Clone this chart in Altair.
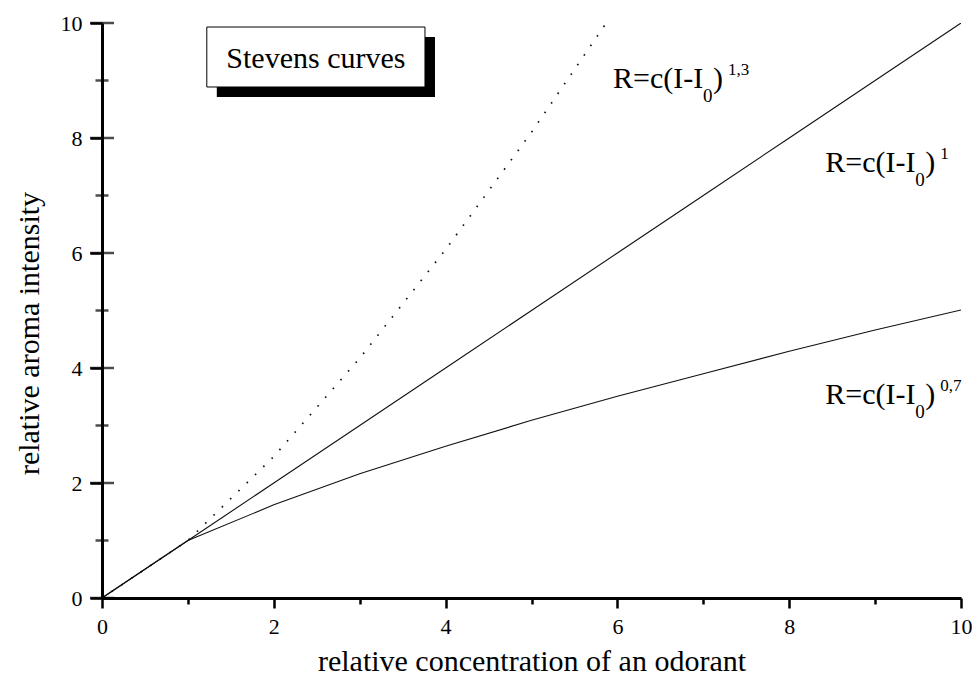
import altair as alt
import pandas as pd

FONT = "Liberation Serif"

# ---- data ----
conc = [0, 1, 2, 3, 4, 5, 6, 7, 8, 9, 10]
resp_exp_10 = [0, 1, 2, 3, 4, 5, 6, 7, 8, 9, 10]
resp_exp_07 = [0, 1.00, 1.62, 2.16, 2.64, 3.09, 3.51, 3.90, 4.29, 4.66, 5.01]
conc_exp_13 = [0, 1, 2, 3, 4, 5, 5.87]
resp_exp_13 = [0, 1.00, 2.46, 4.17, 6.06, 8.10, 10.0]

axis_ticks = [0, 1, 2, 3, 4, 5, 6, 7, 8, 9, 10]
major_ticks = [0, 2, 4, 6, 8, 10]
minor_ticks = [1, 3, 5, 7, 9]

annot_exp = ["1,3", "1", "0,7"]
annot_x = [5.95, 8.42, 8.42]
annot_y = [8.87, 7.41, 3.37]

box_title = "Stevens curves"
box_x = [1.22, 3.76]
box_y = [8.887, 9.93]
box_text_y = 9.217

# ---- tables ----
df_solid = pd.DataFrame({
    "conc": conc + conc,
    "resp": resp_exp_10 + resp_exp_07,
    "series": ["1"] * len(conc) + ["0,7"] * len(conc),
})
df_dot = pd.DataFrame({"conc": conc_exp_13, "resp": resp_exp_13})
df_major = pd.DataFrame({"t": major_ticks})
df_minor = pd.DataFrame({"t": minor_ticks})
df_anno = pd.DataFrame({"x": annot_x, "y": annot_y, "sup": annot_exp})
df_one = pd.DataFrame({"a": [0]})

xs = alt.Scale(domain=[0, 10], nice=False, zero=False)
ys = alt.Scale(domain=[0, 10], nice=False, zero=False)

is_major = "datum.value % 2 === 0"

xaxis = alt.Axis(
    values=axis_ticks,
    title="relative concentration of an odorant",
    labelExpr="datum.value % 2 === 0 ? datum.label : ''",
    tickSize={"condition": {"test": is_major, "value": 10}, "value": 6},
    tickWidth=2.5, domainWidth=3, grid=False,
    labelPadding=8, labelFlush=False, labelOverlap=False,
    titleY=72, titleBaseline="alphabetic",
)
yaxis = alt.Axis(
    values=major_ticks,
    title="relative aroma intensity",
    tickSize=12, tickWidth=2.5, domainWidth=3, grid=False,
    labelPadding=8, labelFlush=False, labelOverlap=False,
    titleAngle=-90, titleX=-64, titleY=310, titleBaseline="alphabetic",
    titleAlign="center",
)


def X(*a, **k):
    return alt.X(*a, scale=xs, axis=xaxis, **k)


def Y(*a, **k):
    return alt.Y(*a, scale=ys, axis=yaxis, **k)


solid = alt.Chart(df_solid).mark_line(color="#111", strokeWidth=1.1, clip=True).encode(
    x=X("conc:Q"), y=Y("resp:Q"), detail="series:N",
)
dotted = alt.Chart(df_dot).mark_line(
    color="#111", strokeWidth=1.7, strokeDash=[1.6, 10], clip=True
).encode(x=X("conc:Q"), y=Y("resp:Q"))

major_in = alt.Chart(df_major).mark_tick(
    orient="horizontal", size=24, thickness=2.5, color="black"
).encode(x=X(datum=0), y=Y("t:Q"))
minor_in = alt.Chart(df_minor).mark_tick(
    orient="horizontal", size=13, thickness=2.5, color="black"
).encode(x=X(datum=0), y=Y("t:Q"))

box_enc = dict(
    x=X(datum=box_x[0]),
    x2=alt.X2(datum=box_x[1]),
    y=Y(datum=box_y[0]),
    y2=alt.Y2(datum=box_y[1]),
)
shadow = alt.Chart(df_one).mark_rect(
    color="black", xOffset=10, x2Offset=10, yOffset=10, y2Offset=10
).encode(**box_enc)
box = alt.Chart(df_one).mark_rect(fill="white", stroke="black", strokeWidth=1).encode(**box_enc)
box_label = alt.Chart(df_one).mark_text(
    text=box_title, font=FONT, fontSize=30, align="center", baseline="alphabetic", color="black"
).encode(
    x=X(datum=(box_x[0] + box_x[1]) / 2),
    y=Y(datum=box_text_y),
)

anno_enc = dict(x=X("x:Q"), y=Y("y:Q"))
txt = dict(font=FONT, align="left", baseline="alphabetic", color="black")
anno_main = alt.Chart(df_anno).mark_text(text="R=c(I-I", fontSize=30, **txt).encode(**anno_enc)
anno_sub = alt.Chart(df_anno).mark_text(text="0", fontSize=19, dx=90, dy=14, **txt).encode(**anno_enc)
anno_par = alt.Chart(df_anno).mark_text(text=")", fontSize=30, dx=100, **txt).encode(**anno_enc)
anno_sup = alt.Chart(df_anno).mark_text(fontSize=17, dx=115, dy=-13, **txt).encode(
    text="sup:N", **anno_enc
)

chart = alt.layer(
    solid, dotted, major_in, minor_in, shadow, box, box_label,
    anno_main, anno_sub, anno_par, anno_sup,
).properties(
    width=859, height=575,
    autosize=alt.AutoSizeParams(type="none"),
    padding={"left": 94, "top": 15, "right": 11, "bottom": 80},
    background="white",
).configure_view(stroke=None).configure_axis(
    labelFont=FONT, titleFont=FONT, labelFontSize=22, titleFontSize=30,
    titleFontWeight="normal", labelColor="black", titleColor="black",
    domainColor="black", tickColor="black",
)

chart.save("out.html", embed_options={"renderer": "svg", "actions": False})
